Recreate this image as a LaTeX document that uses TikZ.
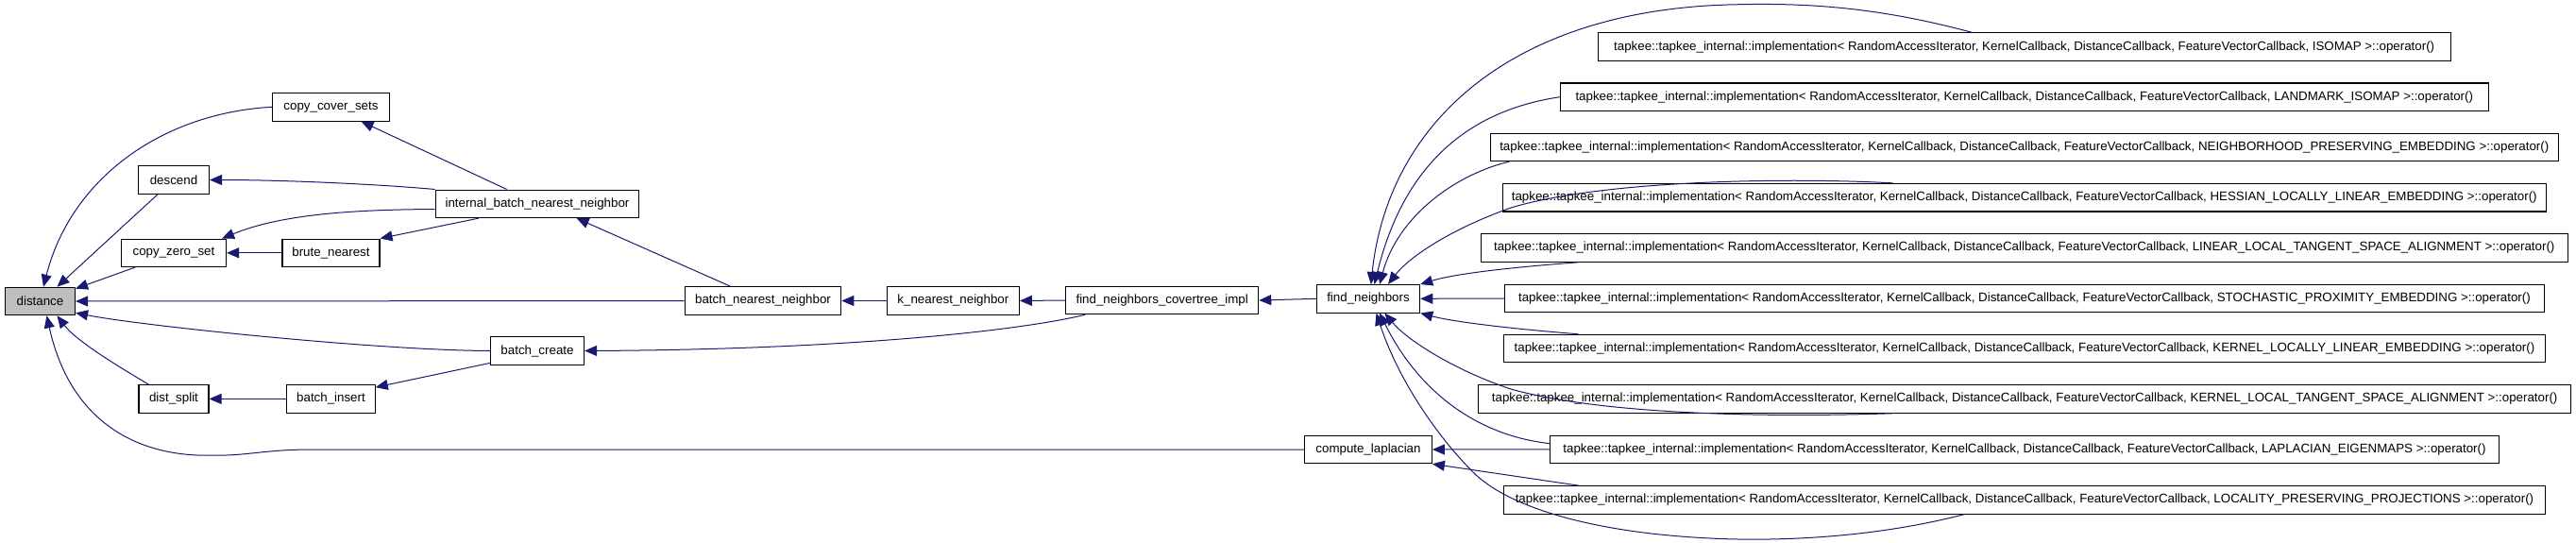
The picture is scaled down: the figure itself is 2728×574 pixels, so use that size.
\documentclass[tikz,border=0pt]{standalone}
\usepackage{fontspec}
\setmainfont{Liberation Sans}
\usetikzlibrary{arrows.meta}
\definecolor{edgeblue}{HTML}{191970}
\definecolor{hlgray}{HTML}{BFBFBF}
\begin{document}
\begin{tikzpicture}[x=1pt,y=-1pt,
  fbox/.style={draw=black,line width=1.1pt,inner sep=0pt,minimum height=29.5pt,font=\fontsize{13.33}{16}\selectfont},
  edge/.style={draw=edgeblue,line width=1pt,-{Triangle[length=13pt,width=11pt]}}]
\useasboundingbox (0,0) rectangle (2728,574);
% nodes
\node[fbox,fill=hlgray,minimum width=74pt] (dist) at (42.5,319) {distance};
\node[fbox,minimum width=124pt] (ccs) at (350.5,113.3) {copy\_cover\_sets};
\node[fbox,minimum width=75pt] (desc) at (184,190.5) {descend};
\node[fbox,minimum width=215.6pt] (ibnn) at (569,215.8) {internal\_batch\_nearest\_neighbor};
\node[fbox,minimum width=111pt] (czs) at (184,267.8) {copy\_zero\_set};
\node[fbox,minimum width=103pt] (brute) at (350.5,267.8) {brute\_nearest};
\node[fbox,minimum width=99pt] (bcreate) at (569,371.5) {batch\_create};
\node[fbox,minimum width=74pt] (dsplit) at (184,422.4) {dist\_split};
\node[fbox,minimum width=93.4pt] (binsert) at (350.5,422.4) {batch\_insert};
\node[fbox,minimum width=165.5pt] (bnn) at (808,318.5) {batch\_nearest\_neighbor};
\node[fbox,minimum width=140pt] (knn) at (1009.4,318.5) {k\_nearest\_neighbor};
\node[fbox,minimum width=204pt] (fnci) at (1230.7,318) {find\_neighbors\_covertree\_impl};
\node[fbox,minimum width=109.4pt] (fn) at (1449,316.3) {find\_neighbors};
\node[fbox,minimum width=134.7pt] (cl) at (1449,476) {compute\_laplacian};
\def\tp{tapkee::tapkee\_internal::implementation< RandomAccessIterator, KernelCallback, DistanceCallback, FeatureVectorCallback, }
\node[fbox,minimum width=903pt] (iso) at (2143.7,49.6) {\tp ISOMAP >::operator()};
\node[fbox,minimum width=983pt] (lm) at (2143.8,102.7) {\tp LANDMARK\_ISOMAP >::operator()};
\node[fbox,minimum width=1131pt] (npe) at (2143.8,155.8) {\tp NEIGHBORHOOD\_PRESERVING\_EMBEDDING >::operator()};
\node[fbox,minimum width=1105pt] (hlle) at (2143.8,209.2) {\tp HESSIAN\_LOCALLY\_LINEAR\_EMBEDDING >::operator()};
\node[fbox,minimum width=1150.7pt] (lltsa) at (2143.8,262.5) {\tp LINEAR\_LOCAL\_TANGENT\_SPACE\_ALIGNMENT >::operator()};
\node[fbox,minimum width=1101pt] (spe) at (2144,316) {\tp STOCHASTIC\_PROXIMITY\_EMBEDDING >::operator()};
\node[fbox,minimum width=1102.8pt] (klle) at (2144,369.1) {\tp KERNEL\_LOCALLY\_LINEAR\_EMBEDDING >::operator()};
\node[fbox,minimum width=1156.6pt] (kltsa) at (2144.2,422.4) {\tp KERNEL\_LOCAL\_TANGENT\_SPACE\_ALIGNMENT >::operator()};
\node[fbox,minimum width=1004.7pt] (le) at (2144,475.9) {\tp LAPLACIAN\_EIGENMAPS >::operator()};
\node[fbox,minimum width=1102.8pt] (lpp) at (2144,529.4) {\tp LOCALITY\_PRESERVING\_PROJECTIONS >::operator()};
% edges into distance
\draw[edge] (ccs.west) .. controls (170,120) and (75,190) .. ([xshift=3.5pt]dist.north);
\draw[edge] ([xshift=-17pt]desc.south) -- ([xshift=18pt]dist.north);
\draw[edge] ([xshift=-41pt]czs.south) -- ([yshift=-2pt]dist.north east);
\draw[edge] (bnn.west) -- (dist.east);
\draw[edge] (bcreate.west) .. controls (400,371) and (150,345) .. ([yshift=3pt]dist.south east);
\draw[edge] ([xshift=-26.6pt]dsplit.north) .. controls (120,385) and (80,360) .. ([xshift=18pt]dist.south);
\draw[edge] (cl.west) -- (330,476) .. controls (280,476) and (260,483) .. (227,482) .. controls (150,485) and (75,450) .. ([xshift=7pt]dist.south);
% middle
\draw[edge] ([xshift=-32.3pt]ibnn.north) -- ([xshift=32pt]ccs.south);
\draw[edge] (ibnn.north west) .. controls (400,195) and (300,190.5) .. (desc.east);
\draw[edge] ([yshift=-5.7pt]ibnn.west) .. controls (380,222) and (300,226) .. ([xshift=-5pt]czs.north east);
\draw[edge] ([xshift=-62pt]ibnn.south) -- (brute.north east);
\draw[edge] (brute.west) -- (czs.east);
\draw[edge] (binsert.west) -- (dsplit.east);
\draw[edge] ([yshift=2.4pt]bcreate.south west) -- ([yshift=-3pt]binsert.north east);
\draw[edge] ([xshift=-34.5pt]bnn.north) -- ([xshift=41.6pt]ibnn.south);
\draw[edge] (knn.west) -- (bnn.east);
\draw[edge] (fnci.west) -- (knn.east);
\draw[edge] ([xshift=21pt]fnci.south west) .. controls (1080,350) and (900,370) .. (bcreate.east);
\draw[edge] (fn.west) -- (fnci.east);
% compute_laplacian callers
\draw[edge] (le.west) -- (cl.east);
\draw[edge] ([xshift=79.4pt]lpp.north west) -- (cl.south east);
% find_neighbors callers
\draw[edge] ([xshift=-55.6pt]iso.north) .. controls (1980,5) and (1900,3) .. (1830,5) .. controls (1600,12) and (1470,130) .. ([xshift=2.8pt]fn.north);
\draw[edge] (lm.west) .. controls (1570,115) and (1490,160) .. ([xshift=6.5pt]fn.north);
\draw[edge] ([xshift=20.7pt]npe.south west) .. controls (1540,185) and (1480,230) .. ([xshift=12pt]fn.north);
\draw[edge] ([xshift=-138.8pt]hlle.north) .. controls (1900,188) and (1700,190) .. (1600,220) .. controls (1530,245) and (1490,275) .. ([xshift=21pt]fn.north);
\draw[edge] ([xshift=103.5pt]lltsa.south west) .. controls (1600,283) and (1540,290) .. (fn.north east);
\draw[edge] (spe.west) -- (fn.east);
\draw[edge] ([xshift=79.4pt]klle.north west) .. controls (1600,348) and (1540,341) .. (fn.south east);
\draw[edge] ([xshift=-139.2pt]kltsa.south) .. controls (1880,442) and (1700,440) .. (1600,412) .. controls (1540,392) and (1490,360) .. ([xshift=17.5pt]fn.south);
\draw[edge] ([yshift=6.3pt]le.west) .. controls (1570,462) and (1505,420) .. ([xshift=12pt]fn.south);
\draw[edge] ([xshift=-64pt]lpp.south) .. controls (1990,568) and (1900,572) .. (1840,571) .. controls (1700,568) and (1600,540) .. (1560,500) .. controls (1520,460) and (1480,400) .. ([xshift=8.5pt]fn.south);
\end{tikzpicture}
\end{document}
